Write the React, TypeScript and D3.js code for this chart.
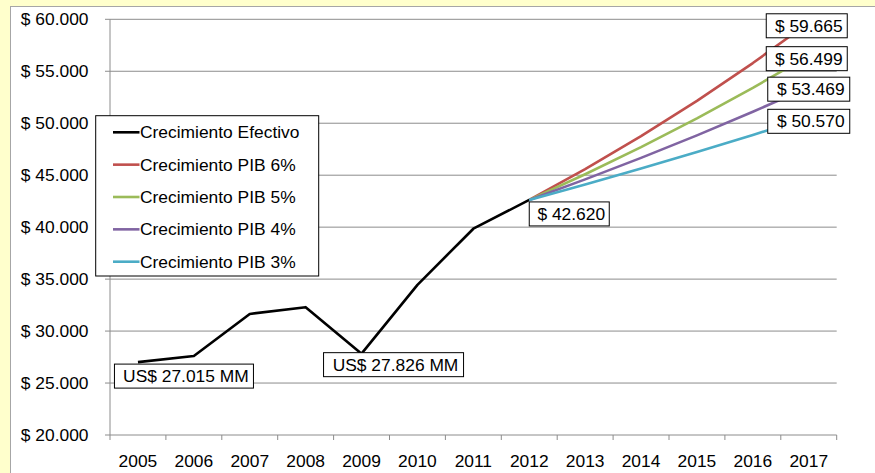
import React from "react";
import * as d3 from "d3";

const years = ["2005","2006","2007","2008","2009","2010","2011","2012","2013","2014","2015","2016","2017"];
const actualYears = ["2005","2006","2007","2008","2009","2010","2011","2012"];
const actual = [27015, 27600, 31650, 32300, 27826, 34450, 39850, 42620];
const projYears = ["2012","2013","2014","2015","2016","2017"];
const pib6 = [42620, 45588, 48762, 52157, 55789, 59665];
const pib5 = [42620, 45092, 47707, 50474, 53401, 56499];
const pib4 = [42620, 44597, 46667, 48832, 51098, 53469];
const pib3 = [42620, 44103, 45638, 47226, 48870, 50570];
const yTicks = [20000, 25000, 30000, 35000, 40000, 45000, 50000, 55000, 60000];
const yTickLabels = ["$ 20.000","$ 25.000","$ 30.000","$ 35.000","$ 40.000","$ 45.000","$ 50.000","$ 55.000","$ 60.000"];
const legendNames = ["Crecimiento Efectivo","Crecimiento PIB 6%","Crecimiento PIB 5%","Crecimiento PIB 4%","Crecimiento PIB 3%"];
const colors = ["#000000","#C0504D","#9BBB59","#8064A2","#4BACC6"];

const labels = [
  { text: "US$ 27.015 MM", year: "2005", value: 27015, dx: 46, dy: 14, w: 139 },
  { text: "US$ 27.826 MM", year: "2009", value: 27826, dx: 32, dy: 11, w: 140 },
  { text: "$ 42.620", year: "2012", value: 42620, dx: 40, dy: 14, w: 80 },
  { text: "$ 59.665", year: "2017", value: 59665, dx: -2, dy: 3, w: 81 },
  { text: "$ 56.499", year: "2017", value: 56499, dx: -2, dy: 3, w: 81 },
  { text: "$ 53.469", year: "2017", value: 53469, dx: 0, dy: 2, w: 82 },
  { text: "$ 50.570", year: "2017", value: 50570, dx: 0, dy: 4, w: 82 },
];

const FONT = "'Liberation Sans', Arial, sans-serif";
const FS = 17.4;

export default function App() {
  const left = 110, right = 836.7, top = 19.3, bottom = 435;
  const x = d3.scaleBand<string>().domain(years).range([left, right]);
  const cx = (yr: string) => (x(yr) as number) + x.bandwidth() / 2;
  const y = d3.scaleLinear().domain([20000, 60000]).range([bottom, top]);

  const line = (ys: string[]) =>
    d3.line<number>().x((_, i) => cx(ys[i])).y((v) => y(v));

  const series = [
    { ys: actualYears, vals: actual, c: colors[0] },
    { ys: projYears, vals: pib6, c: colors[1] },
    { ys: projYears, vals: pib5, c: colors[2] },
    { ys: projYears, vals: pib4, c: colors[3] },
    { ys: projYears, vals: pib3, c: colors[4] },
  ];

  return (
    <svg width={875} height={473} style={{ position: "absolute", left: 0, top: 0 }} fontFamily={FONT}>
      <rect x={0} y={0} width={875} height={473} fill="#FFFFCC" />
      <rect x={10.5} y={6.5} width={880} height={480} fill="#FFFFFF" stroke="#A6A6A6" strokeWidth={1} />
      {yTicks.map((t) => (
        <line key={t} x1={left - 5} x2={right} y1={y(t)} y2={y(t)} stroke="#8C8C8C" strokeWidth={1} />
      ))}
      <line x1={left} x2={left} y1={top} y2={bottom} stroke="#8C8C8C" strokeWidth={1} />
      {years.map((yr) => (
        <line key={yr} x1={x(yr) as number} x2={x(yr) as number} y1={bottom} y2={bottom + 5} stroke="#8C8C8C" />
      ))}
      <line x1={right} x2={right} y1={bottom} y2={bottom + 5} stroke="#8C8C8C" />
      {yTicks.map((t, i) => (
        <text key={t} x={88.5} y={y(t)} dy="0.35em" textAnchor="end" fontSize={FS} fill="#000">
          {yTickLabels[i]}
        </text>
      ))}
      {years.map((yr) => (
        <text key={yr} x={cx(yr)} y={467} textAnchor="middle" fontSize={FS} fill="#000">
          {yr}
        </text>
      ))}
      {series.map((s, i) => (
        <path key={i} d={line(s.ys)(s.vals) || ""} fill="none" stroke={s.c} strokeWidth={2.6} strokeLinejoin="round" />
      ))}
      <rect x={95.7} y={115.7} width={223} height={160.3} fill="#FFFFFF" stroke="#000" strokeWidth={1} />
      {legendNames.map((n, i) => {
        const ly = 132.3 + i * 32.35;
        return (
          <g key={n}>
            <line x1={113} x2={139.5} y1={ly} y2={ly} stroke={colors[i]} strokeWidth={2.6} />
            <text x={140} y={ly} dy="0.35em" fontSize={FS} fill="#000">{n}</text>
          </g>
        );
      })}
      {labels.map((l) => {
        const px = cx(l.year) + l.dx;
        const py = y(l.value) + l.dy;
        return (
          <g key={l.text}>
            <rect x={px - l.w / 2} y={py - 12} width={l.w} height={24} fill="#FFFFFF" stroke="#000" strokeWidth={1} />
            <text x={px + 2} y={py} dy="0.35em" textAnchor="middle" fontSize={FS} fill="#000">{l.text}</text>
          </g>
        );
      })}
    </svg>
  );
}
